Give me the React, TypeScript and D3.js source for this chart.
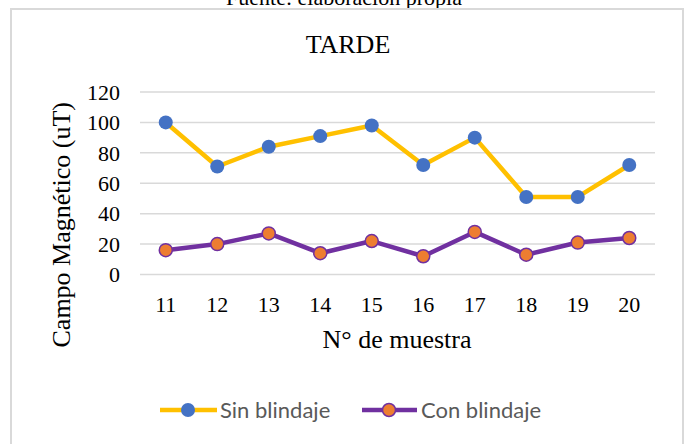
import * as d3 from 'd3';

const muestras = ['11', '12', '13', '14', '15', '16', '17', '18', '19', '20'];
const sinBlindaje = [100, 71, 84, 91, 98, 72, 90, 51, 51, 72];
const conBlindaje = [16, 20, 27, 14, 22, 12, 28, 13, 21, 24];
const yTicks = [0, 20, 40, 60, 80, 100, 120];

const serif = '"Liberation Serif", "Times New Roman", serif';
const sans = 'Lato, "Open Sans", sans-serif';

export default function App() {
  const width = 688;
  const height = 444;
  const margin = { top: 92, right: 33, bottom: 170, left: 140 };

  const x = d3
    .scaleBand()
    .domain(muestras)
    .range([margin.left, width - margin.right]);
  const y = d3
    .scaleLinear()
    .domain([0, 120])
    .range([height - margin.bottom + 0.5, margin.top]);

  const cx = (d: string) => (x(d) || 0) + x.bandwidth() / 2;

  const line = d3
    .line<number>()
    .x((_, i) => cx(muestras[i]))
    .y((v) => y(v));

  return (
    <svg
      width={width}
      height={height}
      style={{ position: 'absolute', left: 0, top: 0, background: '#fff' }}
    >
      <text x={344} y={5} textAnchor="middle" fontFamily={serif} fontSize={22} fill="#000">
        Fuente: elaboración propia
      </text>
      <rect x={11} y={9} width={672} height={450} fill="#fff" stroke="#d9d9d9" strokeWidth={2} />
      <text x={348} y={53} textAnchor="middle" fontFamily={serif} fontSize={26} fill="#000">
        TARDE
      </text>

      {yTicks.map((t) => (
        <g key={t}>
          <line
            x1={margin.left}
            x2={width - margin.right}
            y1={y(t)}
            y2={y(t)}
            stroke="#d9d9d9"
            strokeWidth={1.5}
          />
          <text
            x={120}
            y={y(t)}
            dy="0.35em"
            textAnchor="end"
            fontFamily={serif}
            fontSize={22}
            fill="#000"
          >
            {t}
          </text>
        </g>
      ))}

      {muestras.map((m) => (
        <text
          key={m}
          x={cx(m)}
          y={312}
          textAnchor="middle"
          fontFamily={serif}
          fontSize={22}
          fill="#000"
        >
          {m}
        </text>
      ))}

      <text
        transform="translate(70,102) rotate(-90)"
        textAnchor="end"
        fontFamily={serif}
        fontSize={26}
        fill="#000"
      >
        Campo Magnético (uT)
      </text>
      <text x={397} y={348} textAnchor="middle" fontFamily={serif} fontSize={26} fill="#000">
        N° de muestra
      </text>

      <path d={line(sinBlindaje) || ''} fill="none" stroke="#ffc000" strokeWidth={4.5} strokeLinejoin="round" />
      <path d={line(conBlindaje) || ''} fill="none" stroke="#7030a0" strokeWidth={4.5} strokeLinejoin="round" />
      {sinBlindaje.map((v, i) => (
        <circle key={'s' + i} cx={cx(muestras[i])} cy={y(v)} r={7} fill="#4472c4" />
      ))}
      {conBlindaje.map((v, i) => (
        <circle
          key={'c' + i}
          cx={cx(muestras[i])}
          cy={y(v)}
          r={6.5}
          fill="#ed7d31"
          stroke="#7030a0"
          strokeWidth={1.5}
        />
      ))}

      <g>
        <line x1={160} x2={217} y1={410} y2={410} stroke="#ffc000" strokeWidth={4.5} />
        <circle cx={188} cy={410} r={7} fill="#4472c4" />
        <text x={220} y={410} dy="0.35em" fontFamily={sans} fontSize={22} fill="#595959">
          Sin blindaje
        </text>
        <line x1={362} x2={417} y1={410} y2={410} stroke="#7030a0" strokeWidth={4.5} />
        <circle cx={389} cy={410} r={6.5} fill="#ed7d31" stroke="#7030a0" strokeWidth={1.5} />
        <text x={421} y={410} dy="0.35em" fontFamily={sans} fontSize={22} fill="#595959">
          Con blindaje
        </text>
      </g>
    </svg>
  );
}
